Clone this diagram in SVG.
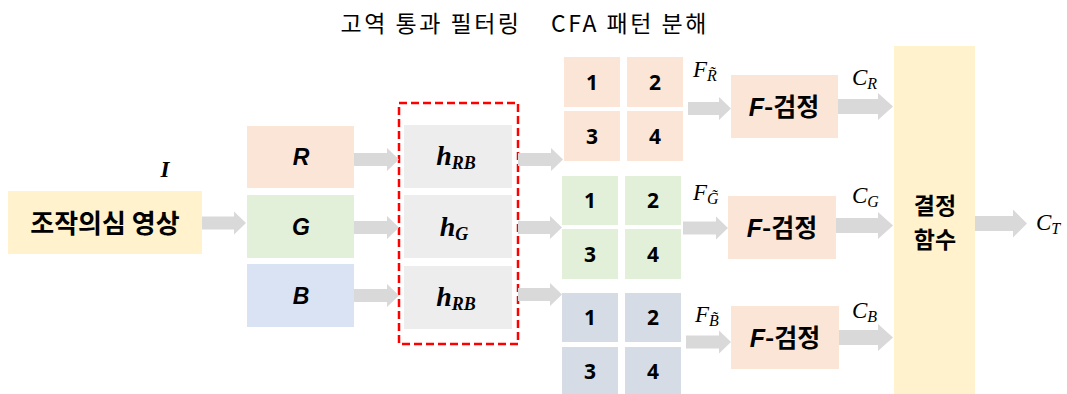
<svg xmlns="http://www.w3.org/2000/svg" width="1067" height="394" viewBox="0 0 1067 394">
<style>
.ko{font-family:"Noto Sans CJK KR","Noto Sans",sans-serif;fill:#000}
.kb{font-family:"Noto Sans CJK KR","Noto Sans",sans-serif;font-weight:bold;fill:#000}
.lt{font-family:"Liberation Sans",Arial,sans-serif;font-weight:bold;font-style:italic;fill:#000}
.num{font-family:"Noto Sans","Liberation Sans",sans-serif;font-weight:bold;font-size:21px;fill:#000;text-anchor:middle}
.m{font-family:"Liberation Serif","DejaVu Serif",serif;font-style:italic;fill:#000}
.mb{font-family:"Liberation Serif","DejaVu Serif",serif;font-style:italic;font-weight:bold;fill:#000}
.arr{fill:#D9D9D9}
.yel{fill:#FFF2CC}
.red{fill:#FBE5D6}
.grn{fill:#E2F0D9}
.blu{fill:#DAE3F3}
.gry{fill:#D6DCE5}
.flt{fill:#EDEDED}
</style>
<text class="ko" x="431" y="32" font-size="23" letter-spacing="2.5" text-anchor="middle">고역 통과 필터링</text>
<text class="ko" x="630" y="32" font-size="23" letter-spacing="2.5" text-anchor="middle">CFA 패턴 분해</text>

<g id="input">
<rect class="yel" x="8" y="191" width="194" height="63"/>
<text class="kb" x="105" y="233" font-size="26" text-anchor="middle">조작의심 영상</text>
<text class="mb" x="165" y="177" font-size="23" text-anchor="middle">I</text>
</g>

<g id="ch-R"><rect class="red" x="247" y="126" width="107" height="62"/><text class="lt" x="301" y="165" font-size="23" text-anchor="middle">R</text></g>
<g id="ch-G"><rect class="grn" x="247" y="195" width="107" height="63"/><text class="lt" x="301" y="235" font-size="23" text-anchor="middle">G</text></g>
<g id="ch-B"><rect class="blu" x="247" y="264" width="107" height="63"/><text class="lt" x="301" y="304" font-size="23" text-anchor="middle">B</text></g>

<g id="filter">
<rect x="399" y="103" width="119" height="241" fill="none" stroke="#FF0000" stroke-width="2.5" stroke-dasharray="8,4"/>
<rect class="flt" x="404" y="125" width="108" height="63"/>
<rect class="flt" x="404" y="195" width="108" height="63"/>
<rect class="flt" x="404" y="266" width="108" height="63"/>
<text class="mb" x="456" y="165" font-size="28" text-anchor="middle">h<tspan font-size="18" dy="4">RB</tspan></text>
<text class="mb" x="454" y="236" font-size="28" text-anchor="middle">h<tspan font-size="18" dy="4">G</tspan></text>
<text class="mb" x="456" y="306" font-size="28" text-anchor="middle">h<tspan font-size="18" dy="4">RB</tspan></text>
</g>

<g id="cfa-R">
<rect class="red" x="564" y="57" width="56" height="50"/><rect class="red" x="627" y="57" width="56" height="50"/>
<rect class="red" x="564" y="111" width="56" height="50"/><rect class="red" x="627" y="111" width="56" height="50"/>
<text class="num" x="592" y="90">1</text><text class="num" x="655" y="90">2</text>
<text class="num" x="592" y="144">3</text><text class="num" x="655" y="144">4</text>
</g>
<g id="cfa-G">
<rect class="grn" x="562" y="176" width="56" height="49"/><rect class="grn" x="625" y="176" width="56" height="49"/>
<rect class="grn" x="562" y="229" width="56" height="50"/><rect class="grn" x="625" y="229" width="56" height="50"/>
<text class="num" x="590" y="208">1</text><text class="num" x="653" y="208">2</text>
<text class="num" x="590" y="262">3</text><text class="num" x="653" y="262">4</text>
</g>
<g id="cfa-B">
<rect class="gry" x="562" y="293" width="56" height="49"/><rect class="gry" x="625" y="293" width="56" height="49"/>
<rect class="gry" x="562" y="347" width="56" height="47"/><rect class="gry" x="625" y="347" width="56" height="47"/>
<text class="num" x="590" y="325">1</text><text class="num" x="653" y="325">2</text>
<text class="num" x="590" y="379">3</text><text class="num" x="653" y="379">4</text>
</g>

<g id="ftest-R"><rect class="red" x="731" y="75" width="107" height="63"/><text class="kb" x="784" y="116" font-size="25" text-anchor="middle"><tspan class="lt">F</tspan>-검정</text></g>
<g id="ftest-G"><rect class="red" x="728" y="196" width="108" height="63"/><text class="kb" x="782" y="237" font-size="25" text-anchor="middle"><tspan class="lt">F</tspan>-검정</text></g>
<g id="ftest-B"><rect class="red" x="731" y="306" width="108" height="63"/><text class="kb" x="785" y="347" font-size="25" text-anchor="middle"><tspan class="lt">F</tspan>-검정</text></g>

<g id="decision">
<rect class="yel" x="894" y="46" width="81" height="348"/>
<text class="kb" font-size="23" text-anchor="middle"><tspan x="935" y="214">결정</tspan><tspan x="935" y="248">함수</tspan></text>
</g>

<g id="labels">
<text class="m" x="693" y="77" font-size="23">F<tspan font-size="16" dy="4">R̃</tspan></text>
<text class="m" x="693" y="200" font-size="23">F<tspan font-size="16" dy="4">G̃</tspan></text>
<text class="m" x="695" y="322" font-size="23">F<tspan font-size="16" dy="4">B̃</tspan></text>
<text class="m" x="852" y="85" font-size="23">C<tspan font-size="16" dy="4">R</tspan></text>
<text class="m" x="852" y="203" font-size="23">C<tspan font-size="16" dy="4">G</tspan></text>
<text class="m" x="852" y="318" font-size="23">C<tspan font-size="16" dy="4">B</tspan></text>
<text class="m" x="1036" y="230" font-size="23">C<tspan font-size="16" dy="4">T</tspan></text>
</g>

<g id="connectors">
<path class="arr" d="M202 216.5H234V211.5L246 223L234 234.5V229.5H202Z"/>
<path class="arr" d="M354 153H387V148L399 159.5L387 171V166H354Z"/>
<path class="arr" d="M354 221H387V216L399 227.5L387 239V234H354Z"/>
<path class="arr" d="M354 289H387V284L399 295.5L387 307V302H354Z"/>
<path class="arr" d="M518 153H551V148L563 159.5L551 171V166H518Z"/>
<path class="arr" d="M518 221H550V216L562 227.5L550 239V234H518Z"/>
<path class="arr" d="M518 288H550V283L562 294.5L550 306V301H518Z"/>
<path class="arr" d="M688 102H719V97L731 108.5L719 120V115H688Z"/>
<path class="arr" d="M683 221.5H716V216.5L728 228L716 239.5V234.5H683Z"/>
<path class="arr" d="M686 335.5H719V330.5L731 342L719 353.5V348.5H686Z"/>
<path class="arr" d="M838 99H878V93L893 106.5L878 120V114H838Z"/>
<path class="arr" d="M836 218H878V212L893 225.5L878 239V233H836Z"/>
<path class="arr" d="M839 330H878V324L893 337.5L878 351V345H839Z"/>
<path class="arr" d="M975 216H1013V209.5L1027 223.5L1013 237.5V231H975Z"/>
</g>
</svg>
